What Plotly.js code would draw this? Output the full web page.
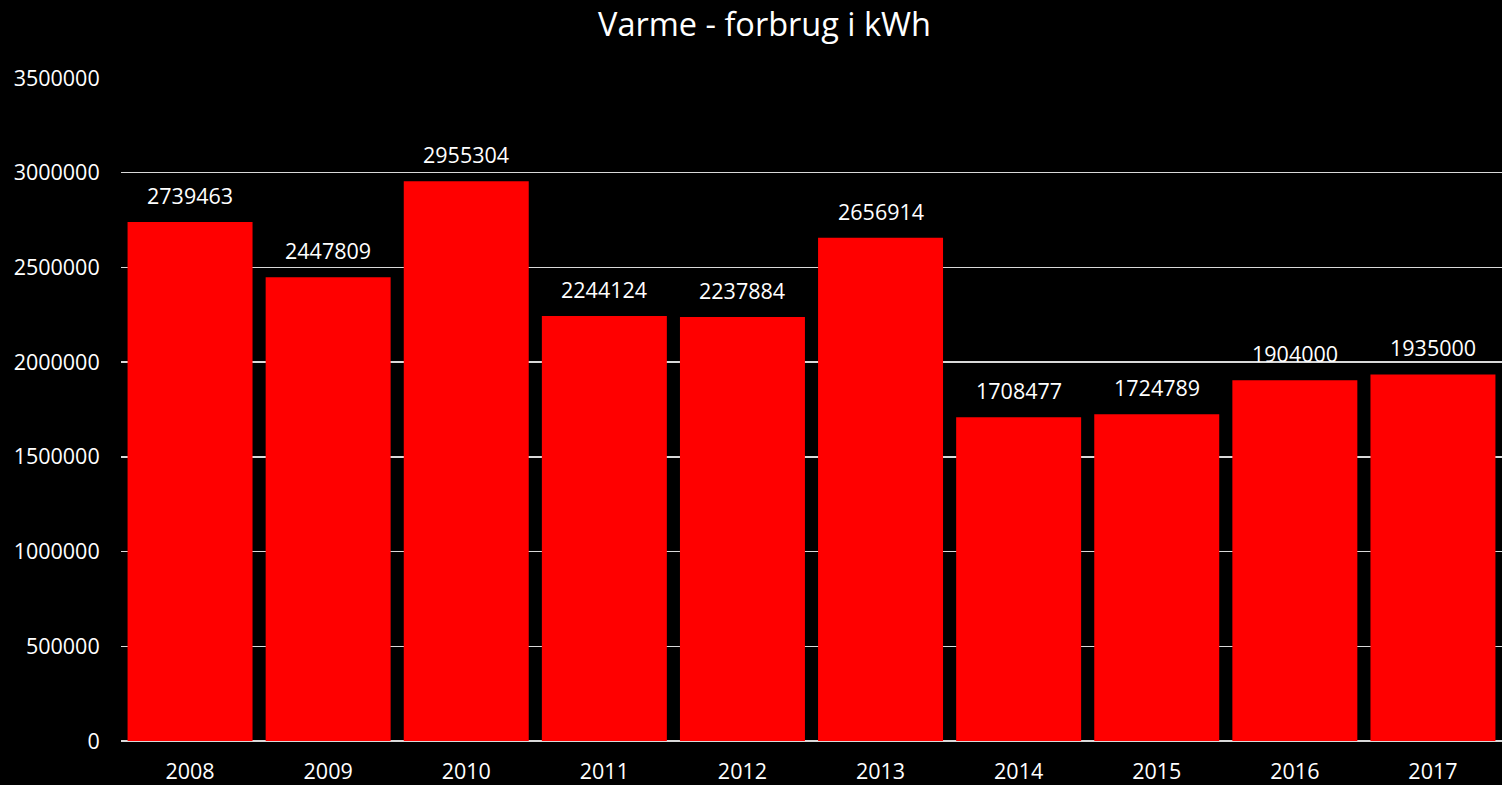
<!DOCTYPE html>
<html>
<head>
<meta charset="utf-8">
<script src="https://cdn.plot.ly/plotly-3.0.1.min.js"></script>
<style>html,body{margin:0;padding:0;background:#000;}#chart{width:1502px;height:785px;}</style>
</head>
<body>
<div id="chart"></div>
<script>
const years = ["2008","2009","2010","2011","2012","2013","2014","2015","2016","2017"];
const consumption = [2739463, 2447809, 2955304, 2244124, 2237884, 2656914, 1708477, 1724789, 1904000, 1935000];
const yTicks = [0, 500000, 1000000, 1500000, 2000000, 2500000, 3000000, 3500000];

const font = "'Open Sans', 'Noto Sans', sans-serif";

const trace = {
  type: 'bar',
  x: years,
  y: consumption,
  marker: {color: '#ff0000', line: {width: 0}},
  hoverinfo: 'x+y'
};

const annotations = years.map((yr, i) => ({
  x: i, y: consumption[i], xref: 'x', yref: 'y',
  text: String(consumption[i]),
  showarrow: false, yanchor: 'bottom', yshift: 10,
  font: {family: font, size: 21.5, color: '#ffffff'}
}));

const layout = {
  width: 1502, height: 785,
  paper_bgcolor: '#000000', plot_bgcolor: '#000000',
  margin: {l: 121, r: 0, t: 78, b: 44},
  title: {text: 'Varme - forbrug i kWh', x: 0.509, xanchor: 'center', y: 0.968, yanchor: 'middle',
          font: {family: font, size: 32.5, color: '#ffffff'}},
  bargap: 0.095,
  showlegend: false,
  xaxis: {
    type: 'category',
    categoryorder: 'array', categoryarray: years,
    range: [-0.5, years.length - 0.5], autorange: false,
    tickfont: {family: font, size: 21.5, color: '#ffffff'},
    ticks: 'outside', ticklen: 11, tickcolor: 'rgba(0,0,0,0)',
    showgrid: false, showline: false, zeroline: false
  },
  yaxis: {
    range: [0, 3500000], autorange: false,
    tickvals: yTicks,
    ticktext: yTicks.map(String),
    tickfont: {family: font, size: 21.5, color: '#ffffff'},
    ticks: 'outside', ticklen: 16, tickcolor: 'rgba(0,0,0,0)',
    showgrid: true, gridcolor: '#d9d9d9', gridwidth: 1.5,
    zeroline: true, zerolinecolor: '#d9d9d9', zerolinewidth: 2,
    showline: false
  },
  annotations: annotations
};

Plotly.newPlot('chart', [trace], layout, {displayModeBar: false, staticPlot: true});
</script>
</body>
</html>
